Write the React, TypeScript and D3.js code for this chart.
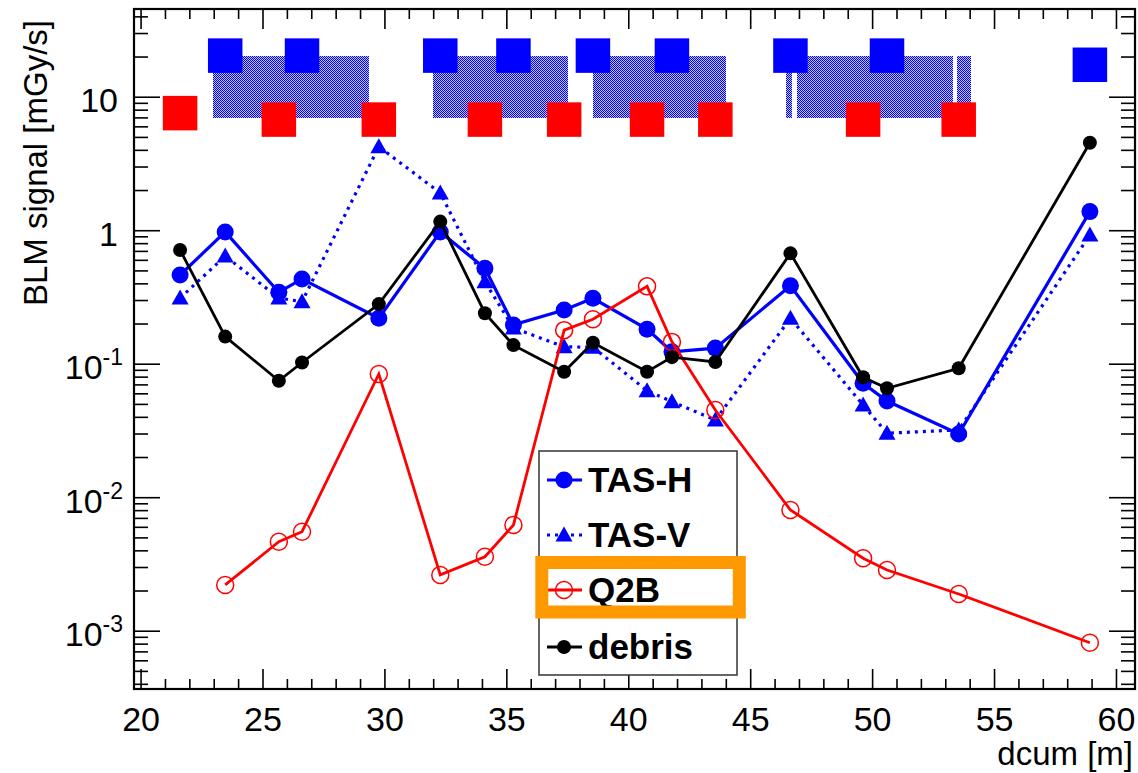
import React from 'react';
import * as d3 from 'd3';

// measurement positions along the beam line [m]
const dcum = [21.6, 23.45, 25.65, 26.6, 29.75, 32.27, 34.1, 35.27, 37.35, 38.53, 40.75, 41.77, 43.55, 46.63, 49.61, 50.59, 53.53, 58.91];

// BLM signal [mGy/s] per series
const tasH = [0.466, 0.98, 0.346, 0.435, 0.221, 0.98, 0.523, 0.197, 0.255, 0.312, 0.183, 0.124, 0.132, 0.387, 0.072, 0.053, 0.030, 1.39];
const tasV = [0.313, 0.646, 0.313, 0.294, 4.26, 1.92, 0.415, 0.187, 0.135, 0.134, 0.0633, 0.0524, 0.0382, 0.221, 0.0495, 0.0304, 0.0322, 0.929];
const q2b = [null, 0.00222, 0.00468, 0.00556, 0.0845, 0.00264, 0.00361, 0.00625, 0.180, 0.217, 0.383, 0.147, 0.0454, 0.00809, 0.00352, 0.00287, 0.0019, 0.00082];
const debris = [0.717, 0.161, 0.0752, 0.103, 0.282, 1.17, 0.241, 0.139, 0.0879, 0.145, 0.0879, 0.113, 0.104, 0.677, 0.0798, 0.066, 0.0932, 4.56];

// BLM location markers at the top
const blueMarkX = [23.45, 26.6, 32.27, 35.27, 38.53, 41.77, 46.63, 50.59, 58.91];
const blueMarkY = [20.5, 20.5, 20.5, 20.5, 20.5, 20.5, 20.5, 20.5, 17.5];
const redMarkX = [21.6, 25.65, 29.75, 34.1, 37.35, 40.75, 43.55, 49.61, 53.53];
const redMarkY = [7.6, 6.8, 6.8, 6.8, 6.8, 6.8, 6.8, 6.8, 6.8];

// magnet extents (hatched)
const magnetStart = [22.94, 31.99, 38.52, 46.45, 46.9, 53.47];
const magnetEnd = [29.33, 37.51, 43.99, 46.69, 53.28, 54.05];
const magnetY = [6.95, 20.3];

const xTickLabels = [20, 25, 30, 35, 40, 45, 50, 55, 60];
const yDecades = [10, 1, 0.1, 0.01, 0.001];

const font = '"Liberation Sans", Arial, Helvetica, sans-serif';
const BLUE = '#0000ff';
const RED = '#ff0000';

const L = 134, R = 1135, T = 9, B = 689;

const x = d3.scaleLinear().domain([19.71, 60.76]).range([L, R]);
const y = d3.scaleLog().domain([3.69e-4, 45.8]).range([B, T]);

const tri = (cx: number, cy: number, s = 1) =>
  `M${cx},${cy - 8.5 * s}L${cx + 8.5 * s},${cy + 6.5 * s}L${cx - 8.5 * s},${cy + 6.5 * s}Z`;

function seriesPath(vals: (number | null)[]) {
  const pts = dcum.map((d, i) => [d, vals[i]] as [number, number | null]).filter(p => p[1] != null) as [number, number][];
  return { pts, d: d3.line<[number, number]>().x(p => x(p[0])).y(p => y(p[1]))(pts) || '' };
}

export default function App() {
  const xMinor = d3.range(20, 61, 1);
  const yMinor: number[] = [];
  for (let e = -4; e <= 1; e++) {
    for (let k = 2; k <= 9; k++) {
      const v = k * Math.pow(10, e);
      if (v >= 3.69e-4 && v <= 45.8) yMinor.push(v);
    }
  }
  const sH = seriesPath(tasH);
  const sV = seriesPath(tasV);
  const sQ = seriesPath(q2b);
  const sD = seriesPath(debris);

  const sq = 34.5;

  return (
    <div style={{ position: 'absolute', left: 0, top: 0 }}>
      <svg width={1138} height={773} style={{ display: 'block', background: '#fff' }} fontFamily={font}>
        <defs>
          <pattern id="hatch" x={0} y={0} width={2} height={2} patternUnits="userSpaceOnUse">
            <rect x={0} y={0} width={2} height={2} fill="#c4c4ff" shapeRendering="crispEdges" />
            <rect x={0} y={0} width={1} height={1} fill={BLUE} shapeRendering="crispEdges" />
            <rect x={1} y={1} width={1} height={1} fill={BLUE} shapeRendering="crispEdges" />
          </pattern>
        </defs>
        <rect x={0} y={0} width={1138} height={773} fill="#fff" />

        {/* magnets */}
        {magnetStart.map((s, i) => (
          <rect key={'m' + i} x={Math.round(x(s))} y={Math.round(y(magnetY[1]))}
            width={Math.round(x(magnetEnd[i]) - x(s))} height={Math.round(y(magnetY[0]) - y(magnetY[1]))}
            fill="url(#hatch)" shapeRendering="crispEdges" />
        ))}
        {blueMarkX.map((v, i) => (
          <rect key={'b' + i} x={x(v) - sq / 2} y={y(blueMarkY[i]) - sq / 2} width={sq} height={sq} fill={BLUE} />
        ))}
        {redMarkX.map((v, i) => (
          <rect key={'r' + i} x={x(v) - sq / 2} y={y(redMarkY[i]) - sq / 2} width={sq} height={sq} fill={RED} />
        ))}

        {/* axis ticks */}
        <g stroke="#000" strokeWidth={1.6}>
          {xMinor.map(v => {
            const len = v % 5 === 0 ? 20 : 10;
            return (
              <g key={'xt' + v}>
                <line x1={x(v)} x2={x(v)} y1={B} y2={B - len} />
                <line x1={x(v)} x2={x(v)} y1={T} y2={T + len} />
              </g>
            );
          })}
          {yDecades.map(v => (
            <g key={'yd' + v}>
              <line x1={L} x2={L + 26} y1={y(v)} y2={y(v)} />
              <line x1={R} x2={R - 26} y1={y(v)} y2={y(v)} />
            </g>
          ))}
          {yMinor.map(v => (
            <g key={'ym' + v}>
              <line x1={L} x2={L + 14} y1={y(v)} y2={y(v)} />
              <line x1={R} x2={R - 14} y1={y(v)} y2={y(v)} />
            </g>
          ))}
        </g>
        <rect x={L} y={T} width={R - L} height={B - T} fill="none" stroke="#000" strokeWidth={2.2} />

        {/* tick labels */}
        {xTickLabels.map(v => (
          <text key={'xl' + v} x={x(v)} y={731} textAnchor="middle" fontSize={34}>{v}</text>
        ))}
        {yDecades.map(v => {
          const e = Math.round(Math.log10(v));
          return (
            <text key={'yl' + v} x={e >= 0 ? 118 : 123} y={y(v) + 15} textAnchor="end" fontSize={34}>
              {e >= 0 ? String(v) : <>10<tspan fontSize={23} dy={-14}>{e}</tspan></>}
            </text>
          );
        })}
        <text x={1133} y={765} textAnchor="end" fontSize={33}>dcum [m]</text>
        <text transform="translate(47,20) rotate(-90)" textAnchor="end" fontSize={33}>BLM signal [mGy/s]</text>

        {/* series */}
        <path d={sH.d} fill="none" stroke={BLUE} strokeWidth={3.2} />
        {sH.pts.map((p, i) => <circle key={'h' + i} cx={x(p[0])} cy={y(p[1])} r={8.5} fill={BLUE} />)}
        <path d={sV.d} fill="none" stroke={BLUE} strokeWidth={3.2} strokeDasharray="3 5" />
        {sV.pts.map((p, i) => <path key={'v' + i} d={tri(x(p[0]), y(p[1]))} fill={BLUE} />)}
        <path d={sQ.d} fill="none" stroke={RED} strokeWidth={2.8} />
        {sQ.pts.map((p, i) => <circle key={'q' + i} cx={x(p[0])} cy={y(p[1])} r={8.5} fill="none" stroke={RED} strokeWidth={1.5} />)}
        <path d={sD.d} fill="none" stroke="#000" strokeWidth={2.8} />
        {sD.pts.map((p, i) => <circle key={'d' + i} cx={x(p[0])} cy={y(p[1])} r={7} fill="#000" />)}

        {/* legend */}
        <rect x={539} y={451} width={198} height={224} fill="#fff" stroke="#333" strokeWidth={1.5} />
        <g fontSize={35} fontWeight="bold">
          <line x1={547} x2={582} y1={480} y2={480} stroke={BLUE} strokeWidth={3.2} />
          <circle cx={564} cy={480} r={8.5} fill={BLUE} />
          <text x={588} y={492}>TAS-H</text>

          <line x1={547} x2={582} y1={535} y2={535} stroke={BLUE} strokeWidth={3.2} strokeDasharray="3 5" />
          <path d={tri(564, 535)} fill={BLUE} />
          <text x={588} y={547}>TAS-V</text>

          <line x1={547} x2={582} y1={590} y2={590} stroke={RED} strokeWidth={2.8} />
          <circle cx={564} cy={590} r={8.5} fill="none" stroke={RED} strokeWidth={1.5} />
          <text x={588} y={602}>Q2B</text>

          <line x1={547} x2={582} y1={647} y2={647} stroke="#000" strokeWidth={2.8} />
          <circle cx={564} cy={647} r={7} fill="#000" />
          <text x={588} y={659}>debris</text>
        </g>
        <rect x={541.8} y={562.5} width={197.5} height={49.5} fill="none" stroke="#ff9900" strokeWidth={13} />
      </svg>
    </div>
  );
}
